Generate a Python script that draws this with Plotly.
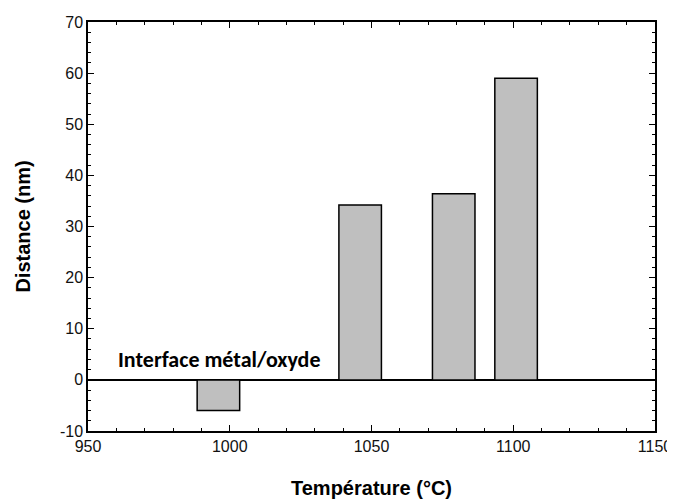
import plotly.graph_objects as go

# temperatures (bar centres, °C) and distance to the metal/oxide interface (nm)
temperature = [996, 1046, 1079, 1101]
distance    = [-6.0, 34.2, 36.4, 59.0]
bar_width   = 15

x_ticks = [950, 1000, 1050, 1100, 1150]
y_ticks = [-10, 0, 10, 20, 30, 40, 50, 60, 70]
y_tick_text = [str(v) for v in y_ticks]   # plain hyphen for -10

FONT = "Arial, Liberation Sans, sans-serif"

fig = go.Figure(go.Bar(
    x=temperature, y=distance, width=bar_width,
    marker=dict(color="#bfbfbf", line=dict(color="black", width=1.5)),
    showlegend=False,
))

fig.add_annotation(
    x=960, y=0, xref="x", yref="y", xanchor="left", yanchor="bottom", yshift=5,
    text="<b>Interface métal/oxyde</b>", showarrow=False,
    font=dict(family="Carlito, Lato, sans-serif", size=22, color="black"),
)

axis_common = dict(
    showline=True, linecolor="black", linewidth=1.5, mirror="allticks",
    ticks="inside", ticklen=6, tickwidth=1.3, tickcolor="black",
    showgrid=False, automargin=False, ticklabeloverflow="allow",
    tickfont=dict(family=FONT, size=16, color="#111"),
)

fig.update_xaxes(
    range=[950, 1150], tickvals=x_ticks, zeroline=False,
    minor=dict(ticks="inside", ticklen=3, tickwidth=1, tickcolor="black", dtick=10),
    title=dict(text="<b>Température (°C)</b>", standoff=27,
               font=dict(family=FONT, size=20, color="black")),
    **axis_common,
)
fig.update_yaxes(
    range=[-10, 70], tickvals=y_ticks, ticktext=y_tick_text,
    zeroline=True, zerolinecolor="black", zerolinewidth=2,
    minor=dict(ticks="inside", ticklen=3, tickwidth=1, tickcolor="black", dtick=2),
    title=dict(text="<b>Distance (nm)</b>", standoff=24,
               font=dict(family=FONT, size=20, color="black")),
    **axis_common,
)

# page body adds an 8px offset, so margins are shifted to compensate
fig.update_layout(
    width=675, height=502,
    margin=dict(l=80, r=28, t=14, b=79),
    plot_bgcolor="white", paper_bgcolor="white",
)

fig.write_html("out.html")
